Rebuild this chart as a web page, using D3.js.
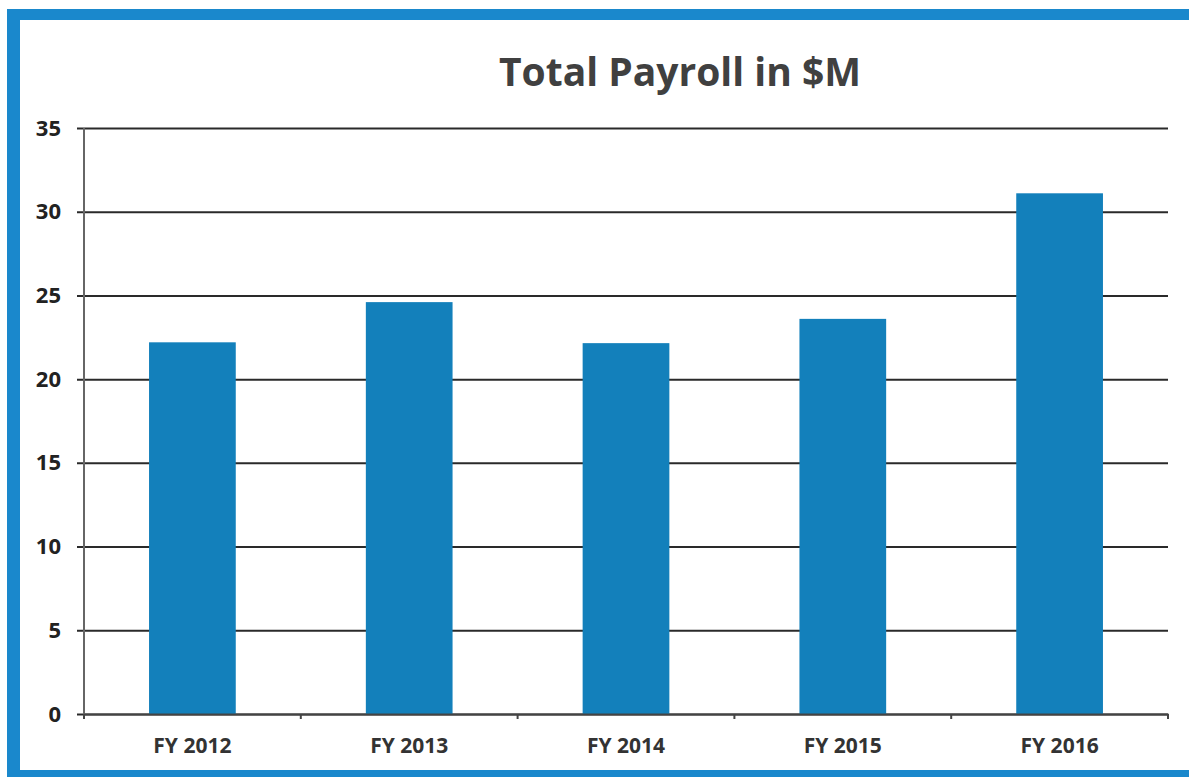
<!DOCTYPE html>
<html>
  <head>
    <meta charset="utf-8" />
    <script src="https://d3js.org/d3.v7.min.js"></script>
    <style>
      body { margin: 0px; background: #fff; }
      .tick text { font-family: "Open Sans", sans-serif; font-weight: 700; }
    </style>
  </head>
  <body>
    <svg width="1189" height="777"></svg>
    <script>
      const years = ["FY 2012", "FY 2013", "FY 2014", "FY 2015", "FY 2016"];
      const payroll = [22.2, 24.6, 22.15, 23.6, 31.1];
      const yTicks = [0, 5, 10, 15, 20, 25, 30, 35];
      const title = "Total Payroll in $M";

      const margin = { left: 84, right: 21, top: 128, bottom: 63 };
      const svg = d3.select("svg");
      const width = +svg.attr("width");
      const height = +svg.attr("height");
      const innerWidth = width - margin.left - margin.right;
      const innerHeight = height - margin.top - margin.bottom;

      // scanned blue frame
      svg.append("rect").attr("x", 7).attr("y", 9).attr("width", 13).attr("height", 768).attr("fill", "#1a88cc");
      svg.append("rect").attr("x", 7).attr("y", 9).attr("width", 1182).attr("height", 11).attr("fill", "#1a88cc");
      svg.append("rect").attr("x", 7).attr("y", 770).attr("width", 1182).attr("height", 7).attr("fill", "#1a88cc");

      svg.append("text")
        .attr("x", 680)
        .attr("y", 86)
        .attr("text-anchor", "middle")
        .style("font-family", "'Open Sans', sans-serif")
        .style("font-weight", 700)
        .style("font-size", "39px")
        .style("fill", "#404040")
        .text(title);

      const g = svg.append("g").attr("transform", `translate(${margin.left},${margin.top})`);

      const x = d3.scaleBand().domain(years).range([0, innerWidth]).paddingInner(0.6).paddingOuter(0.3);
      const y = d3.scaleLinear().domain([0, 35]).range([innerHeight, 0]);

      // gridlines
      const yAxis = d3.axisLeft(y).tickValues(yTicks).tickSize(-innerWidth - 7).tickPadding(16);
      const yAxisG = g.append("g").attr("transform", "translate(-7,0)").call(yAxis);
      yAxisG.select(".domain").remove();
      yAxisG.selectAll(".tick line")
        .attr("x1", 0)
        .attr("stroke", "#2a2a2a")
        .attr("stroke-width", 2);
      yAxisG.selectAll(".tick text")
        .attr("x", -16)
        .style("font-size", "22px")
        .style("fill", "#222");

      g.selectAll("rect.bar")
        .data(payroll)
        .enter()
        .append("rect")
        .attr("class", "bar")
        .attr("x", (d, i) => x(years[i]))
        .attr("y", (d) => y(d))
        .attr("width", x.bandwidth())
        .attr("height", (d) => innerHeight - y(d))
        .attr("fill", "#1380bb");

      // y axis line
      g.append("line")
        .attr("x1", 0).attr("x2", 0)
        .attr("y1", 0).attr("y2", innerHeight + 4)
        .attr("stroke", "#666")
        .attr("stroke-width", 2);

      const xAxis = d3.axisBottom(x).tickSize(0).tickPadding(24);
      const xAxisG = g.append("g").attr("transform", `translate(0,${innerHeight})`).call(xAxis);
      xAxisG.select(".domain").attr("stroke", "#444").attr("stroke-width", 2);
      xAxisG.selectAll(".tick text").style("font-size", "21px").style("fill", "#333");

      // category boundary ticks
      const step = x.step();
      xAxisG.selectAll("line.sep")
        .data(d3.range(years.length + 1))
        .enter()
        .append("line")
        .attr("class", "sep")
        .attr("x1", (d) => d * step).attr("x2", (d) => d * step)
        .attr("y1", 0).attr("y2", 5)
        .attr("stroke", "#444")
        .attr("stroke-width", 2);
    </script>
  </body>
</html>
